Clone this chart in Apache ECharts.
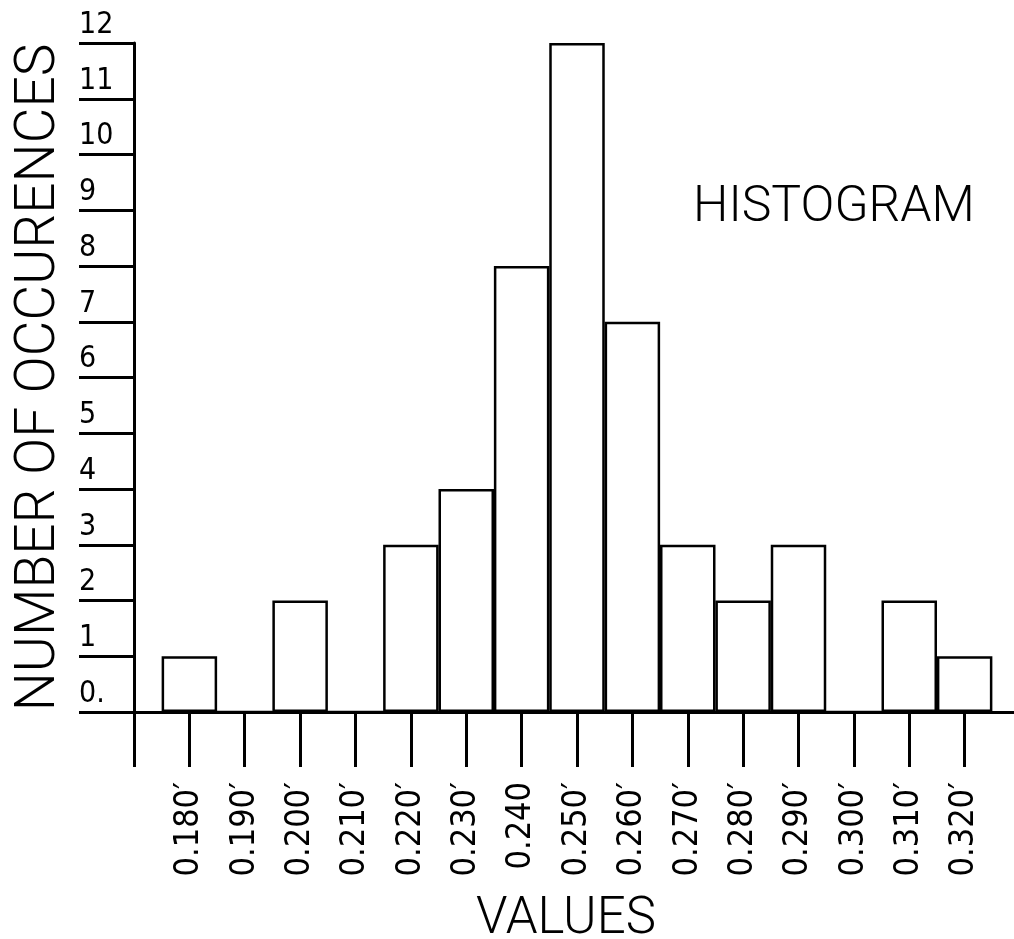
<!DOCTYPE html>
<html>
<head>
<meta charset="utf-8">
<title>HISTOGRAM</title>
<script src="https://cdn.jsdelivr.net/npm/echarts@6/dist/echarts.min.js"></script>
<style>
  html, body { margin: 0; padding: 0; background: #fff; }
  #main { width: 1014px; height: 939px; }
</style>
</head>
<body>
<div id="main"></div>
<script>
// bin centres and counts
var binCenters = [0.18, 0.19, 0.20, 0.21, 0.22, 0.23, 0.24, 0.25, 0.26, 0.27, 0.28, 0.29, 0.30, 0.31, 0.32];
var counts = [1, 0, 2, 0, 3, 4, 8, 12, 7, 3, 2, 3, 0, 2, 1];
// tick labels as printed (0.240 has no prime)
var xTickLabels = ["0.180′", "0.190′", "0.200′", "0.210′", "0.220′", "0.230′", "0.240", "0.250′",
  "0.260′", "0.270′", "0.280′", "0.290′", "0.300′", "0.310′", "0.320′"];
var yTickLabels = ["0.", "1", "2", "3", "4", "5", "6", "7", "8", "9", "10", "11", "12"];

var narrow = "'Liberation Sans Narrow', 'DejaVu Sans Condensed', 'Roboto Condensed', sans-serif";
var thin = "Roboto, 'DejaVu Sans', sans-serif";

var chart = echarts.init(document.getElementById('main'), null, { renderer: 'canvas' });

var barData = [];
for (var i = 0; i < binCenters.length; i++) {
  barData.push([binCenters[i], counts[i]]);
}

var option = {
  backgroundColor: '#fff',
  animation: false,
  title: {
    text: 'HISTOGRAM',
    left: 688,
    top: 178,
    textStyle: {
      fontFamily: thin,
      fontWeight: 300,
      fontSize: 50,
      color: '#000'
    }
  },
  grid: {
    left: 134,
    right: -6,   // axis runs past the right edge
    top: 43,
    bottom: 227,
    outerBoundsMode: 'none'   // keep the grid where it is, labels may stick out
  },
  xAxis: {
    type: 'value',
    min: 0.17,
    max: 0.33,
    interval: 0.01,
    name: 'VALUES',
    nameLocation: 'middle',
    nameGap: 183,
    nameTextStyle: {
      fontFamily: thin,
      fontWeight: 300,
      fontSize: 51,
      color: '#000',
      padding: [0, 0, 0, -22]
    },
    splitLine: { show: false },
    axisLine: { show: true, onZero: false, lineStyle: { color: '#000', width: 3 } },
    axisTick: { show: true, length: 55, lineStyle: { color: '#000', width: 3 } },
    axisLabel: {
      rotate: 90,
      margin: 70,
      fontFamily: narrow,
      fontSize: 34,
      color: '#000',
      formatter: function (v) {
        var idx = Math.round((v - 0.18) * 100);
        return xTickLabels[idx] || '';
      }
    }
  },
  yAxis: {
    type: 'value',
    min: 0,
    max: 12,
    interval: 1,
    name: 'NUMBER OF OCCURENCES',
    nameLocation: 'middle',
    nameGap: 66,
    nameTextStyle: {
      fontFamily: thin,
      fontWeight: 300,
      fontSize: 55,
      color: '#000'
    },
    splitLine: { show: false },
    axisLine: { show: true, lineStyle: { color: '#000', width: 3 } },
    axisTick: { show: true, length: 55, lineStyle: { color: '#000', width: 3 } },
    axisLabel: {
      margin: 55,
      align: 'left',
      verticalAlign: 'bottom',
      padding: [0, 0, 3, 0],
      fontFamily: narrow,
      fontSize: 30,
      color: '#000',
      formatter: function (v) {
        return yTickLabels[Math.round(v)];
      }
    }
  },
  series: [{
    type: 'bar',
    data: barData,
    barWidth: 55.5,
    itemStyle: {
      color: '#fff',
      borderColor: '#000',
      borderWidth: 2.5
    }
  }]
};

chart.setOption(option);
</script>
</body>
</html>
